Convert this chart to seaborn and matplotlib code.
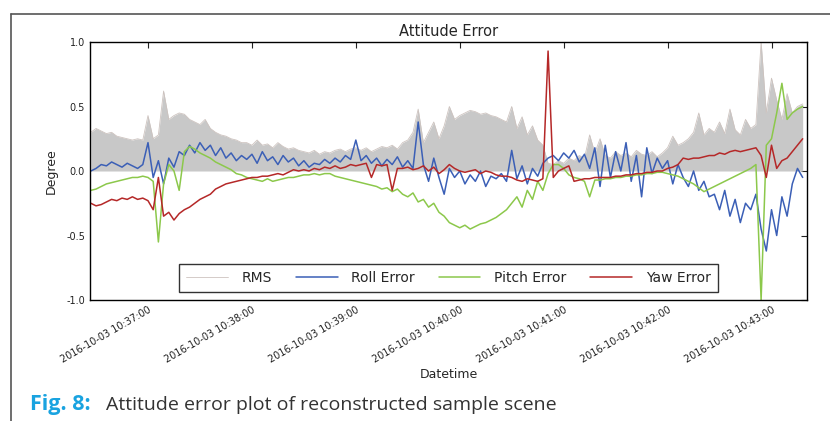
import pandas as pd
import matplotlib
matplotlib.use('Agg')
import matplotlib.pyplot as plt
import matplotlib.dates as mdates
from matplotlib.lines import Line2D
import seaborn as sns

# Wartosci (probkowanie co 3 s od 10:36:27)
rms = [0.30, 0.33, 0.31, 0.29, 0.30, 0.27, 0.26, 0.25, 0.24, 0.25,
       0.24, 0.43, 0.25, 0.28, 0.62, 0.40, 0.43, 0.45, 0.44, 0.40,
       0.38, 0.36, 0.40, 0.33, 0.30, 0.28, 0.27, 0.25, 0.24, 0.22,
       0.22, 0.20, 0.24, 0.20, 0.21, 0.18, 0.22, 0.19, 0.17, 0.18,
       0.16, 0.15, 0.14, 0.16, 0.13, 0.15, 0.14, 0.16, 0.17, 0.15,
       0.17, 0.18, 0.16, 0.18, 0.15, 0.17, 0.19, 0.18, 0.20, 0.17,
       0.22, 0.24, 0.30, 0.48, 0.22, 0.30, 0.38, 0.25, 0.35, 0.50,
       0.40, 0.43, 0.45, 0.47, 0.46, 0.44, 0.45, 0.43, 0.42, 0.40,
       0.38, 0.50, 0.33, 0.42, 0.28, 0.35, 0.24, 0.20, 0.06, 0.05,
       0.08, 0.06, 0.10, 0.08, 0.12, 0.10, 0.28, 0.14, 0.25, 0.12,
       0.10, 0.15, 0.12, 0.14, 0.11, 0.16, 0.13, 0.12, 0.15, 0.11,
       0.14, 0.18, 0.27, 0.20, 0.22, 0.25, 0.30, 0.45, 0.28, 0.33,
       0.30, 0.38, 0.29, 0.48, 0.32, 0.28, 0.40, 0.33, 0.36, 1.00,
       0.45, 0.72, 0.55, 0.40, 0.60, 0.45, 0.50, 0.52]

roll = [0.00, 0.02, 0.05, 0.04, 0.07, 0.05, 0.03, 0.06, 0.04, 0.02,
        0.05, 0.22, -0.05, 0.08, -0.10, 0.10, 0.03, 0.15, 0.12, 0.20,
        0.14, 0.22, 0.16, 0.20, 0.12, 0.18, 0.10, 0.14, 0.08, 0.12,
        0.09, 0.13, 0.06, 0.15, 0.08, 0.11, 0.05, 0.12, 0.07, 0.10,
        0.04, 0.08, 0.03, 0.06, 0.05, 0.09, 0.06, 0.10, 0.07, 0.12,
        0.09, 0.24, 0.08, 0.12, 0.06, 0.10, 0.04, 0.09, 0.05, 0.11,
        0.03, 0.08, 0.02, 0.38, 0.05, -0.08, 0.10, -0.05, -0.18, 0.02,
        -0.05, 0.00, -0.10, -0.03, -0.08, 0.00, -0.12, -0.04, -0.06, -0.02,
        -0.08, 0.16, -0.06, 0.04, -0.10, 0.02, -0.04, 0.06, 0.10, 0.12,
        0.08, 0.14, 0.10, 0.16, 0.07, 0.13, 0.02, 0.18, -0.12, 0.20,
        -0.05, 0.15, 0.00, 0.22, -0.08, 0.12, -0.20, 0.18, -0.02, 0.10,
        0.02, 0.08, -0.10, 0.05, -0.05, -0.12, 0.00, -0.15, -0.08, -0.20,
        -0.18, -0.30, -0.15, -0.35, -0.22, -0.40, -0.25, -0.30, -0.18, -0.45,
        -0.62, -0.30, -0.50, -0.20, -0.35, -0.10, 0.02, -0.05]

pitch = [-0.15, -0.14, -0.12, -0.10, -0.09, -0.08, -0.07, -0.06, -0.05, -0.05,
         -0.04, -0.05, -0.08, -0.55, -0.10, 0.05, 0.00, -0.15, 0.15, 0.19,
         0.17, 0.14, 0.12, 0.10, 0.07, 0.05, 0.03, 0.01, -0.02, -0.03,
         -0.05, -0.06, -0.07, -0.08, -0.06, -0.08, -0.07, -0.06, -0.05, -0.05,
         -0.04, -0.03, -0.03, -0.02, -0.03, -0.02, -0.02, -0.04, -0.05, -0.06,
         -0.07, -0.08, -0.09, -0.10, -0.11, -0.12, -0.14, -0.13, -0.16, -0.14,
         -0.18, -0.20, -0.17, -0.24, -0.22, -0.28, -0.25, -0.32, -0.35, -0.40,
         -0.42, -0.44, -0.42, -0.45, -0.43, -0.41, -0.40, -0.38, -0.36, -0.33,
         -0.30, -0.25, -0.20, -0.28, -0.15, -0.22, -0.08, -0.15, -0.02, 0.05,
         0.05, 0.02, -0.03, -0.05, -0.06, -0.08, -0.20, -0.07, -0.07, -0.06,
         -0.06, -0.05, -0.05, -0.04, -0.04, -0.03, -0.03, -0.02, -0.02, -0.01,
         -0.01, -0.02, -0.03, -0.04, -0.06, -0.08, -0.10, -0.13, -0.16, -0.14,
         -0.12, -0.10, -0.08, -0.06, -0.04, -0.02, 0.00, 0.02, 0.05, -1.00,
         0.20, 0.25, 0.45, 0.68, 0.40, 0.45, 0.48, 0.50]

yaw = [-0.25, -0.27, -0.26, -0.24, -0.22, -0.23, -0.21, -0.22, -0.20, -0.22,
       -0.21, -0.23, -0.30, -0.05, -0.35, -0.32, -0.38, -0.33, -0.30, -0.28,
       -0.25, -0.22, -0.20, -0.18, -0.14, -0.12, -0.10, -0.09, -0.08, -0.07,
       -0.06, -0.05, -0.05, -0.04, -0.04, -0.03, -0.02, -0.03, -0.01, 0.01,
       0.00, 0.01, 0.00, 0.02, 0.01, 0.03, 0.02, 0.04, 0.02, 0.03,
       0.05, 0.04, 0.05, 0.06, -0.05, 0.05, 0.04, 0.05, -0.15, 0.02,
       0.02, 0.03, 0.01, 0.02, 0.04, 0.00, 0.03, -0.02, 0.01, 0.05,
       0.02, 0.00, -0.01, 0.00, 0.01, -0.02, 0.00, -0.01, -0.03, -0.04,
       -0.04, -0.05, -0.07, -0.08, -0.06, -0.07, -0.08, -0.06, 0.93, -0.05,
       0.00, 0.02, 0.04, -0.08, -0.07, -0.06, -0.06, -0.05, -0.05, -0.05,
       -0.05, -0.04, -0.04, -0.03, -0.03, -0.02, -0.02, -0.01, -0.01, 0.00,
       0.00, 0.02, 0.03, 0.05, 0.10, 0.09, 0.10, 0.10, 0.11, 0.12,
       0.12, 0.14, 0.13, 0.15, 0.16, 0.15, 0.16, 0.17, 0.18, 0.12,
       -0.05, 0.20, 0.02, 0.08, 0.10, 0.15, 0.20, 0.25]

times = pd.date_range('2016-10-03 10:36:27', periods=len(rms), freq='3s')

df = pd.DataFrame({'Datetime': times, 'RMS': rms, 'Roll Error': roll,
                   'Pitch Error': pitch, 'Yaw Error': yaw})

# Styl
sns.set_style('white')
plt.rcParams['font.family'] = ['DejaVu Sans']
plt.rcParams['axes.unicode_minus'] = False

fig = plt.figure(figsize=(8.3, 4.21), dpi=100)
ax = fig.add_axes([0.1084, 0.2874, 0.8639, 0.6128])

ax.fill_between(df['Datetime'], 0, df['RMS'], color='#c8c8c8', lw=0)
sns.lineplot(data=df, x='Datetime', y='RMS', ax=ax, color='#cdc3bf', lw=0.6, label='RMS')
sns.lineplot(data=df, x='Datetime', y='Roll Error', ax=ax, color='#3b5fb6', lw=1.1, label='Roll Error')
sns.lineplot(data=df, x='Datetime', y='Pitch Error', ax=ax, color='#8cc84b', lw=1.1, label='Pitch Error')
sns.lineplot(data=df, x='Datetime', y='Yaw Error', ax=ax, color='#b52828', lw=1.1, label='Yaw Error')

ax.set_ylim(-1.0, 1.0)
ax.set_xlim(pd.Timestamp('2016-10-03 10:36:26.5'), pd.Timestamp('2016-10-03 10:43:20.5'))
ax.set_yticks([-1.0, -0.5, 0.0, 0.5, 1.0])
ax.set_yticklabels(['-1.0', '-0.5', '0.0', '0.5', '1.0'])
ax.xaxis.set_major_locator(mdates.MinuteLocator())
ax.xaxis.set_major_formatter(mdates.DateFormatter('%Y-%m-%d %H:%M:%S'))
ax.tick_params(direction='in', top=True, right=True, length=4, width=0.8,
               labelsize=7, colors='#222222')
for lab in ax.get_xticklabels():
    lab.set_rotation(30)
    lab.set_ha('right')
    lab.set_rotation_mode('anchor')
for sp in ax.spines.values():
    sp.set_color('black')
    sp.set_linewidth(1.0)

ax.set_title('Attitude Error', fontsize=10.5, pad=4)
ax.set_xlabel('Datetime', fontsize=9, labelpad=2)
ax.set_ylabel('Degree', fontsize=9, labelpad=6)

leg = ax.legend(loc='lower center', bbox_to_anchor=(0.5, 0.031), ncol=4,
                fontsize=10, frameon=True, fancybox=False, handlelength=3.0,
                columnspacing=1.7, borderpad=0.5, handletextpad=1.0,
                borderaxespad=0)
leg.get_frame().set_edgecolor('black')
leg.get_frame().set_linewidth(1.0)

# Ramka strony i podpis
fig.add_artist(Line2D([0.0135, 0.0135], [0, 0.967], color='#555555', lw=1.2, transform=fig.transFigure))
fig.add_artist(Line2D([0.0135, 1.0], [0.967, 0.967], color='#555555', lw=1.2, transform=fig.transFigure))
fig.text(0.036, 0.026, 'Fig. 8:', fontsize=15.5, fontweight='bold', color='#19a3e0', family='Open Sans')
fig.text(0.128, 0.026, 'Attitude error plot of reconstructed sample scene', fontsize=14,
         color='#333333', family='Open Sans')

fig.savefig('out.png', dpi=100)
